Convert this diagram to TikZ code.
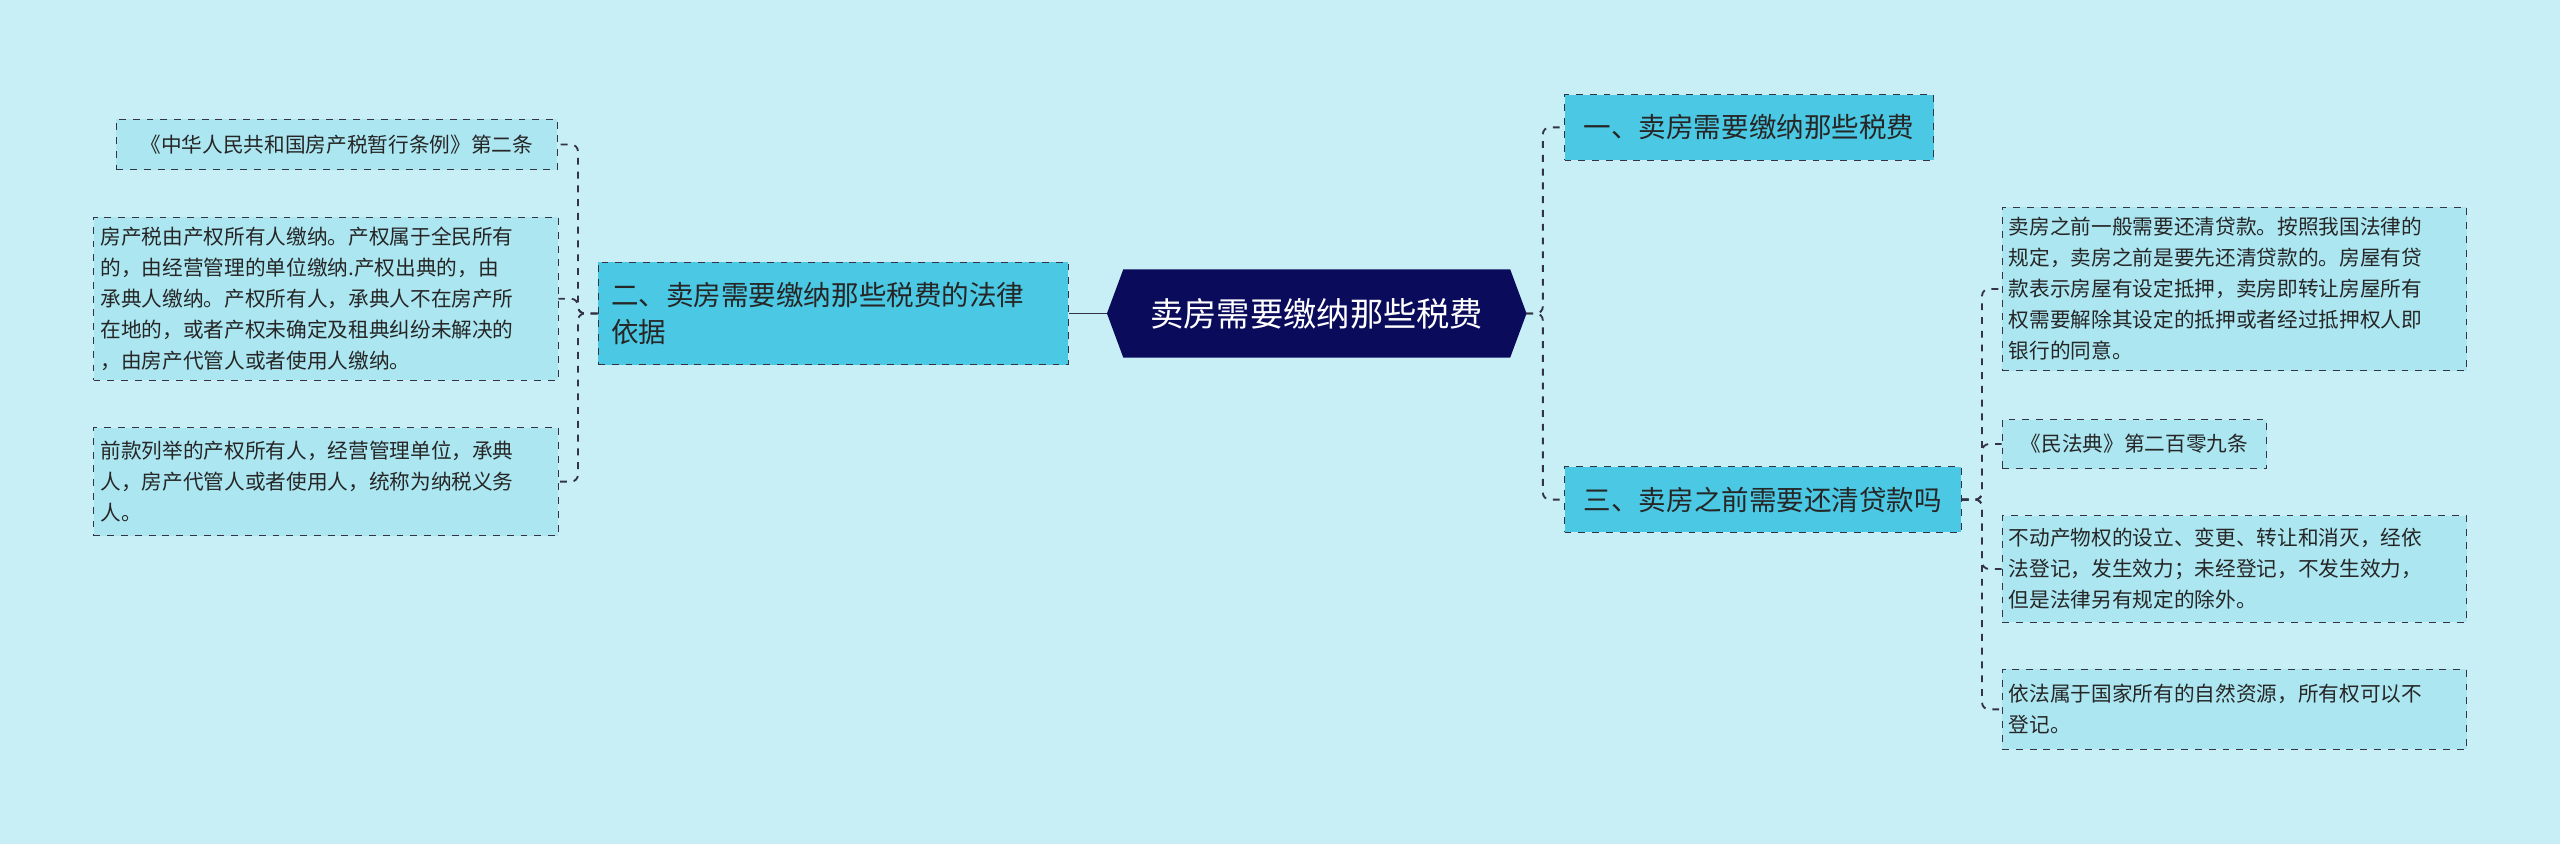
\documentclass[tikz,border=0pt]{standalone}
\usepackage{fontspec}
\setmainfont{Noto Sans CJK SC}
\usetikzlibrary{positioning, calc}
\definecolor{bgBlue}{HTML}{C8EFF6}
\definecolor{mainBlue}{HTML}{4BC8E3}
\definecolor{leafBlue}{HTML}{ABE6F1}
\definecolor{darkNavy}{HTML}{0B0B5C}
\definecolor{lineGray}{HTML}{333344}
\begin{document}
\begin{tikzpicture}[x=0.025cm, y=-0.025cm,
    branch/.style={draw=lineGray, dashed, fill=mainBlue, font=\fontsize{12}{16}\selectfont, align=left, anchor=west, inner sep=4pt, text=black!85},
    leaf/.style={draw=lineGray, dashed, fill=leafBlue, font=\fontsize{9}{13.5}\selectfont, align=left, anchor=west, inner sep=3pt, text=black!85},
    link/.style={draw=lineGray, dashed, thick, rounded corners=3pt}
]
    \fill[bgBlue] (0,0) rectangle (1568,517);
    \useasboundingbox (0,0) rectangle (1568,517);

    % centre
    \fill[darkNavy] (678,192) -- (688,165) -- (925,165) -- (935,192) -- (925,219) -- (688,219) -- cycle;
    \node[font=\fontsize{14.5}{18}\selectfont, text=white, minimum width=6.4cm, minimum height=1.35cm] (root) at (806.5,192) {卖房需要缴纳那些税费};

    % branches
    \node[branch, minimum width=7.2cm, minimum height=1.575cm, text width=6.8cm] (basis) at (366,192) {二、卖房需要缴纳那些税费的法律\\依据};
    \node[branch, minimum width=5.65cm, minimum height=1cm] (tax) at (958,78) {一、卖房需要缴纳那些税费};
    \node[branch, minimum width=6.075cm, minimum height=1cm] (loan) at (958,306) {三、卖房之前需要还清贷款吗};

    % left leaves
    \node[leaf, minimum width=6.75cm, minimum height=0.775cm] (rule) at (71,88.5) {《中华人民共和国房产税暂行条例》第二条};
    \node[leaf, minimum width=7.1cm, minimum height=2.5cm, text width=6.9cm] (payer) at (57,183) {房产税由产权所有人缴纳。产权属于全民所有\\的，由经营管理的单位缴纳.产权出典的，由\\承典人缴纳。产权所有人，承典人不在房产所\\在地的，或者产权未确定及租典纠纷未解决的\\，由房产代管人或者使用人缴纳。};
    \node[leaf, minimum width=7.1cm, minimum height=1.65cm, text width=6.9cm] (taxpayer) at (57,295) {前款列举的产权所有人，经营管理单位，承典\\人，房产代管人或者使用人，统称为纳税义务\\人。};

    % right leaves
    \node[leaf, minimum width=7.1cm, minimum height=2.5cm, text width=6.9cm] (repay) at (1226,177) {卖房之前一般需要还清贷款。按照我国法律的\\规定，卖房之前是要先还清贷款的。房屋有贷\\款表示房屋有设定抵押，卖房即转让房屋所有\\权需要解除其设定的抵押或者经过抵押权人即\\银行的同意。};
    \node[leaf, minimum width=4.05cm, minimum height=0.75cm] (code) at (1226,272) {《民法典》第二百零九条};
    \node[leaf, minimum width=7.1cm, minimum height=1.625cm, text width=6.9cm] (register) at (1226,348.5) {不动产物权的设立、变更、转让和消灭，经依\\法登记，发生效力；未经登记，不发生效力，\\但是法律另有规定的除外。};
    \node[leaf, minimum width=7.1cm, minimum height=1.225cm, text width=6.9cm] (state) at (1226,434.5) {依法属于国家所有的自然资源，所有权可以不\\登记。};

    % connectors
    \draw[lineGray, thick] (basis.east) -- (root.west);
    \draw[link] (root.east) -- (945,192) |- (tax.west);
    \draw[link] (root.east) -- (945,192) |- (loan.west);
    \draw[link] (basis.west) -- (354,192) |- (rule.east);
    \draw[link] (basis.west) -- (354,192) |- (payer.east);
    \draw[link] (basis.west) -- (354,192) |- (taxpayer.east);
    \draw[link] (loan.east) -- (1214,306) |- (repay.west);
    \draw[link] (loan.east) -- (1214,306) |- (code.west);
    \draw[link] (loan.east) -- (1214,306) |- (register.west);
    \draw[link] (loan.east) -- (1214,306) |- (state.west);
\end{tikzpicture}
\end{document}
